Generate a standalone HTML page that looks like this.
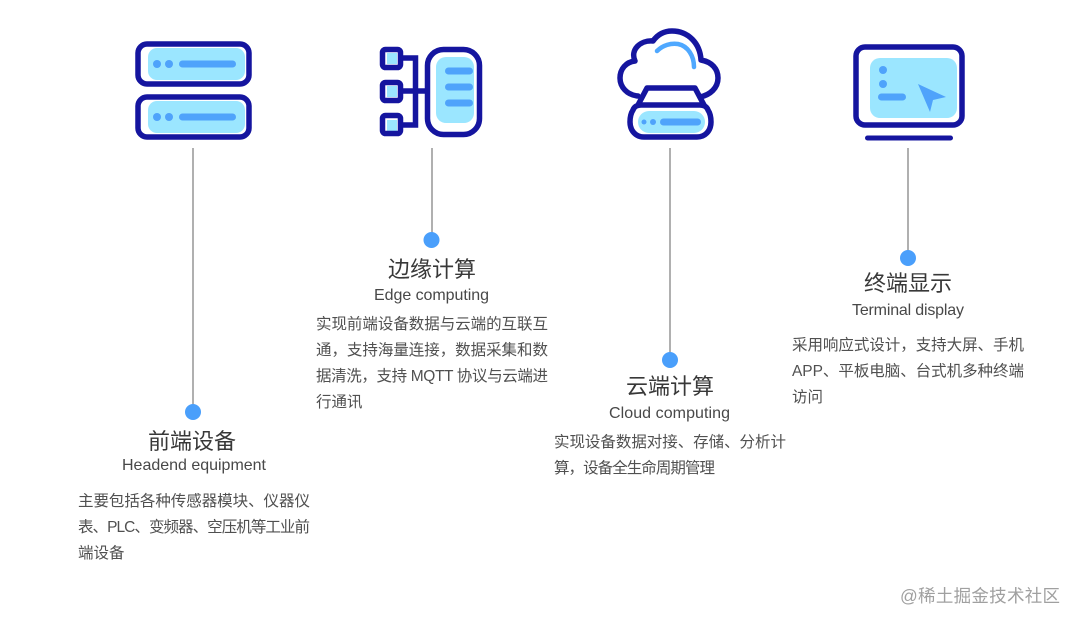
<!DOCTYPE html>
<html>
<head>
<meta charset="utf-8">
<style>
html,body{margin:0;padding:0;background:#fff;width:1080px;height:626px;overflow:hidden}
svg{display:block}
text{font-family:"Liberation Sans","Noto Sans CJK SC",sans-serif}
.t{font-size:22px;fill:#383838;text-anchor:middle}
.e{font-size:16px;fill:#484848}
.b{font-size:15.5px;fill:#505050}
.d{fill:none;stroke:#15159f;stroke-width:5.500;stroke-linejoin:round;stroke-linecap:round}
.l{fill:#9be6ff}
.m{fill:#4fa3fb}
.c{stroke:#b0b0b0;stroke-width:2}
</style>
</head>
<body>
<svg width="1080" height="626" viewBox="0 0 1080 626" xmlns="http://www.w3.org/2000/svg">
<rect width="1080" height="626" fill="#fff"/>

<!-- Icon 1 -->
<rect class="l" x="148" y="48" width="97" height="32" rx="9"/>
<rect class="d" x="138" y="44" width="111" height="40" rx="9"/>
<circle class="m" cx="157" cy="64" r="4"/><circle class="m" cx="169" cy="64" r="4"/>
<rect class="m" x="179" y="60.500" width="57" height="7" rx="3.500"/>
<rect class="l" x="148" y="101" width="97" height="32" rx="9"/>
<rect class="d" x="138" y="97" width="111" height="40" rx="9"/>
<circle class="m" cx="157" cy="117" r="4"/><circle class="m" cx="169" cy="117" r="4"/>
<rect class="m" x="179" y="113.500" width="57" height="7" rx="3.500"/>

<!-- Icon 2 -->
<rect class="l" x="387" y="53" width="10" height="11"/>
<rect class="l" x="387" y="86" width="10" height="11"/>
<rect class="l" x="387" y="120" width="10" height="11"/>
<rect class="d" x="382.500" y="49.500" width="18" height="18" rx="3"/>
<rect class="d" x="382.500" y="82.500" width="18" height="18" rx="3"/>
<rect class="d" x="382.500" y="115.500" width="18" height="18" rx="3"/>
<path d="M401 58H415.500V125H401M401 91H426" fill="none" stroke="#15159f" stroke-width="5.500"/>
<rect class="l" x="436" y="57" width="38" height="66" rx="10"/>
<rect class="d" x="427.500" y="49.500" width="52" height="85" rx="16"/>
<rect class="m" x="445" y="67.500" width="28" height="7" rx="3.500"/>
<rect class="m" x="445" y="83.500" width="28" height="7" rx="3.500"/>
<rect class="m" x="445" y="99.500" width="28" height="7" rx="3.500"/>

<!-- Icon 3 -->
<path class="d" d="M638 96C627 95 620 87 620 78C620 69 626 62 635 61C630 50 640 40 653 41C658 34 665 31 672 31C688 31 700 43 701 60C712 62 718 69 718 78C718 88 710 95 700 97"/>
<path d="M657 51C663 45 671 43 678 44C688 46 694 56 694 67" fill="none" stroke="#4fa8ff" stroke-width="4.500" stroke-linecap="round"/>
<path class="d" d="M638 105L647 88H695L704 105"/>
<rect class="l" x="638" y="111" width="67" height="22" rx="11"/>
<path class="d" d="M641 105H700C704 105 707 107 708 110C710 113 711 117 711 122C711 131 705 137 697 137H644C636 137 630 131 630 122C630 117 631 113 633 110C634 107 637 105 641 105Z"/>
<circle class="m" cx="644" cy="122" r="2.500"/><circle class="m" cx="653" cy="122" r="3"/>
<rect class="m" x="660" y="118.500" width="41" height="7" rx="3.500"/>

<!-- Icon 4 -->
<rect class="l" x="870" y="58" width="87" height="60" rx="10"/>
<rect class="d" x="856" y="47" width="106" height="78" rx="9"/>
<circle class="m" cx="883" cy="70" r="4"/><circle class="m" cx="883" cy="84" r="4"/>
<rect class="m" x="878" y="93.500" width="28" height="7" rx="3.500"/>
<path class="m" d="M918 84L946 97L933 100L930 112Z"/>
<rect x="865" y="135.500" width="88" height="5" rx="2.500" fill="#15159f"/>

<!-- Connectors -->
<line class="c" x1="193" y1="148" x2="193" y2="405"/>
<circle cx="193" cy="412" r="8" fill="#4a9ffb"/>
<line class="c" x1="432" y1="148" x2="432" y2="233"/>
<circle cx="431.500" cy="240" r="8" fill="#4a9ffb"/>
<line class="c" x1="670" y1="148" x2="670" y2="353"/>
<circle cx="670" cy="360" r="8" fill="#4a9ffb"/>
<line class="c" x1="908" y1="148" x2="908" y2="252"/>
<circle cx="908" cy="258" r="8" fill="#4a9ffb"/>

<!-- Column 1 -->
<text class="t" x="192" y="449">前端设备</text>
<text class="e" x="122" y="470" textLength="144" lengthAdjust="spacing">Headend equipment</text>
<text class="b" x="78" y="506" textLength="232" lengthAdjust="spacing">主要包括各种传感器模块、仪器仪</text>
<text class="b" x="78" y="532" textLength="232" lengthAdjust="spacing">表、PLC、变频器、空压机等工业前</text>
<text class="b" x="78" y="558">端设备</text>

<!-- Column 2 -->
<text class="t" x="432" y="277">边缘计算</text>
<text class="e" x="374" y="300" textLength="115" lengthAdjust="spacing">Edge computing</text>
<text class="b" x="316" y="329" textLength="232" lengthAdjust="spacing">实现前端设备数据与云端的互联互</text>
<text class="b" x="316" y="355" textLength="232" lengthAdjust="spacing">通，支持海量连接，数据采集和数</text>
<text class="b" x="316" y="381" textLength="232" lengthAdjust="spacing">据清洗，支持 MQTT 协议与云端进</text>
<text class="b" x="316" y="407">行通讯</text>

<!-- Column 3 -->
<text class="t" x="670" y="394">云端计算</text>
<text class="e" x="609" y="418" textLength="121" lengthAdjust="spacing">Cloud computing</text>
<text class="b" x="554" y="447" textLength="232" lengthAdjust="spacing">实现设备数据对接、存储、分析计</text>
<text class="b" x="554" y="473" textLength="161" lengthAdjust="spacing">算，设备全生命周期管理</text>

<!-- Column 4 -->
<text class="t" x="908" y="291">终端显示</text>
<text class="e" x="852" y="315" textLength="112" lengthAdjust="spacing">Terminal display</text>
<text class="b" x="792" y="350" textLength="232" lengthAdjust="spacing">采用响应式设计，支持大屏、手机</text>
<text class="b" x="792" y="376" textLength="232" lengthAdjust="spacing">APP、平板电脑、台式机多种终端</text>
<text class="b" x="792" y="402">访问</text>

<!-- Watermark -->
<text x="900" y="602" font-size="17.500" fill="#a0a0a0" textLength="160" lengthAdjust="spacing">@稀土掘金技术社区</text>
</svg>
</body>
</html>
